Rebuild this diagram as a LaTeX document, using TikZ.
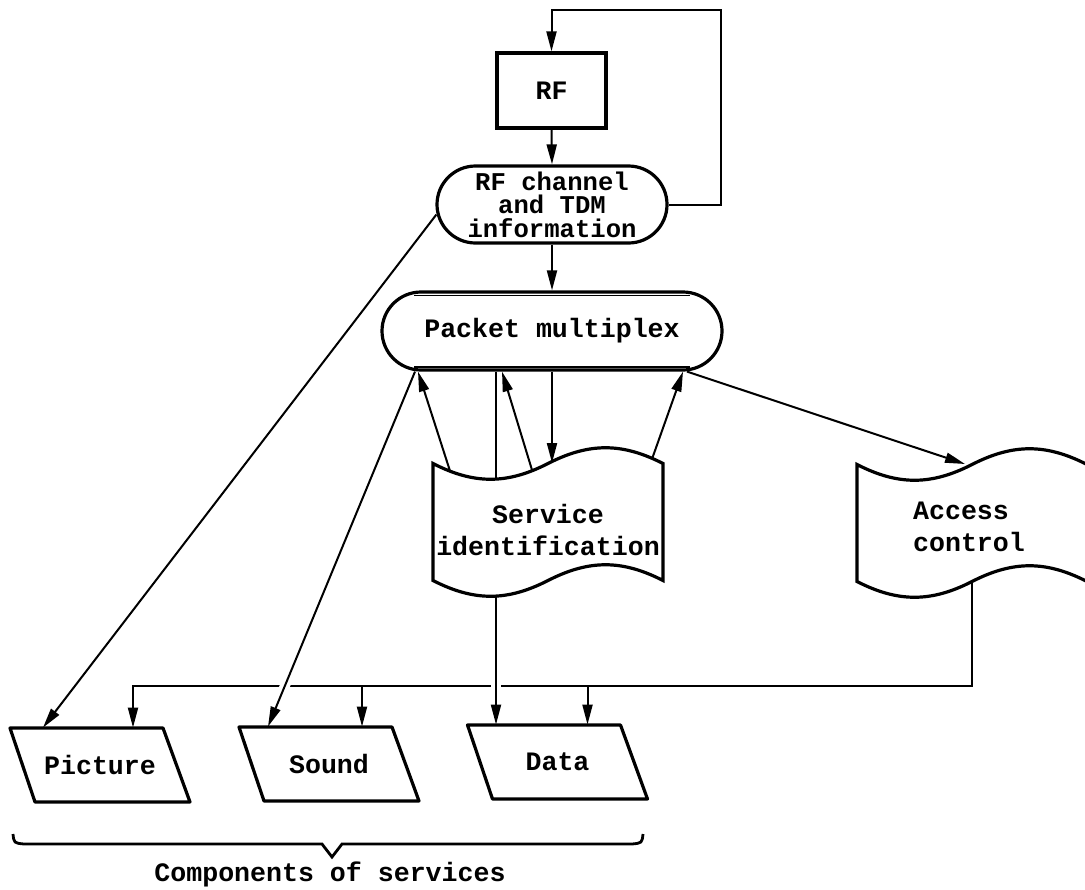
\documentclass[tikz,border=0pt]{standalone}
\usepackage{fontspec}
\setmonofont{Liberation Mono}
\usetikzlibrary{positioning, shapes.geometric, shapes.misc, arrows.meta, calc, backgrounds}
\newcommand{\diagfont}{\ttfamily\bfseries\fontsize{13.3}{16}\selectfont}

\begin{document}
\begin{tikzpicture}[x=0.5pt, y=-0.5pt]
    \tikzset{
        arr/.style={-{Triangle[length=10pt, width=5pt]}, line width=1pt},
        hop/.style={preaction={draw=white, line width=5pt, -}},
        block/.style={draw, line width=1.6pt, fill=white, font=\diagfont, inner sep=0pt},
        rf box/.style={block, rectangle, minimum width=54.5pt, minimum height=37.5pt},
        oval box/.style={block, rounded rectangle, align=center},
        comp box/.style={font=\diagfont, inner sep=0pt, minimum width=77.5pt, minimum height=37pt},
        flag text/.style={font=\diagfont, inner sep=0pt},
        flag/.pic={
                \draw[line width=1.6pt, fill=white]
                (-115,-58) .. controls (-74,-37) and (-41,-37) .. (0,-58)
                .. controls (41,-79) and (74,-79) .. (115,-58)
                -- (115,59)
                .. controls (74,38) and (41,38) .. (0,59)
                .. controls (-41,80) and (-74,80) .. (-115,59) -- cycle;
            },
        slant/.pic={
                \draw[line width=1.6pt, fill=white, line join=round]
                (-90,-37) -- (63,-37) -- (90,37) -- (-65,37) -- cycle;
            }
    }
    \useasboundingbox (0,0) rectangle (1085,889);

    \node[rf box] (rf) at (551.5,90.5) {RF};
    \node[oval box, minimum width=115pt, minimum height=38.5pt,
        font=\ttfamily\bfseries\fontsize{12.8}{11.8}\selectfont] (rfch) at (552,204.5)
    {RF channel\\and TDM\\information};
    \node[oval box, minimum width=170pt, minimum height=39pt] (pkt) at (552,331) {Packet multiplex};
    \draw[line width=0.9pt] ($(pkt.north)+(-138,5)$) -- ++(276,0);
    \draw[line width=0.9pt] ($(pkt.south)+(-138,-5)$) -- ++(276,0);

    % wavy boxes
    \pic at (548,521.5) {flag};
    \node[flag text, align=center] (svc) at (548,530) {Service\\identification};
    \pic at (972,522.5) {flag};
    \node[flag text, align=left] (acc) at (969,527) {Access\\control};

    % components
    \pic at (100,765) {slant};
    \node[comp box] (pic) at (100,765) {Picture};
    \pic at (329,764) {slant};
    \node[comp box] (snd) at (329,764) {Sound};
    \pic at (557.5,762) {slant};
    \node[comp box] (dat) at (557.5,762) {Data};

    % brace
    \draw[line width=1.4pt] (13,834) .. controls (14,843) .. (24,844) -- (322,844) -- (332,857)
    -- (342,844) -- (632,844) .. controls (642,843) .. (643,834);
    \node[flag text] (comp) at (330,874) {Components of services};

    \coordinate (fbk) at (721,10);
    \coordinate (bus) at (133,686);
    \coordinate (acc-t) at ($(acc)+(-4,-63)$);
    \coordinate (acc-b) at ($(acc)+(3,55)$);
    \coordinate (svc-a) at ($(svc)+(-98,-59)$);
    \coordinate (svc-c) at ($(svc)+(-16,-60)$);
    \coordinate (svc-d) at ($(svc)+(2,-67)$);
    \coordinate (svc-e) at ($(svc)+(104,-71)$);
    \coordinate (pk-v) at ($(pkt.south)+(-56,0)$);
    \coordinate (snd-in) at ($(snd.north)+(33,0)$);
    \coordinate (dat-in) at ($(dat.north)+(30,0)$);

    \begin{scope}[on background layer]
        \draw[arr] (rf.south) -- (rfch.north);
        \draw[arr] (rfch.south) -- (pkt.north);
        \draw[arr] (rfch.east) -| (fbk) -| (rf.north);
        % bus to components
        \draw[arr] (acc-b) |- (bus) -- (bus |- pic.north);
        \draw[arr] (snd-in |- bus) -- (snd-in);
        \draw[arr] (dat-in |- bus) -- (dat-in);
        \draw[arr] ($(rfch.west)+(1,10)$) -- ($(pic.north)+(-57,0)$);
        \draw[arr, hop] ($(pkt.south)+(-137,0)$) -- ($(snd.north)+(-61,0)$);
        \draw[arr, hop] (pk-v) -- (pk-v |- dat.north);
        \draw[arr] (svc-a) -- ($(pkt.south)+(-134,0)$);
        \draw[arr] (svc-c) -- ($(pkt.south)+(-50,0)$);
        \draw[arr] (pkt.south) -- (pkt.south |- svc-d);
        \draw[arr] (svc-e) -- ($(pkt.south)+(131,0)$);
        \draw[arr] ($(pkt.south)+(135,0)$) -- (acc-t);
    \end{scope}
\end{tikzpicture}
\end{document}
